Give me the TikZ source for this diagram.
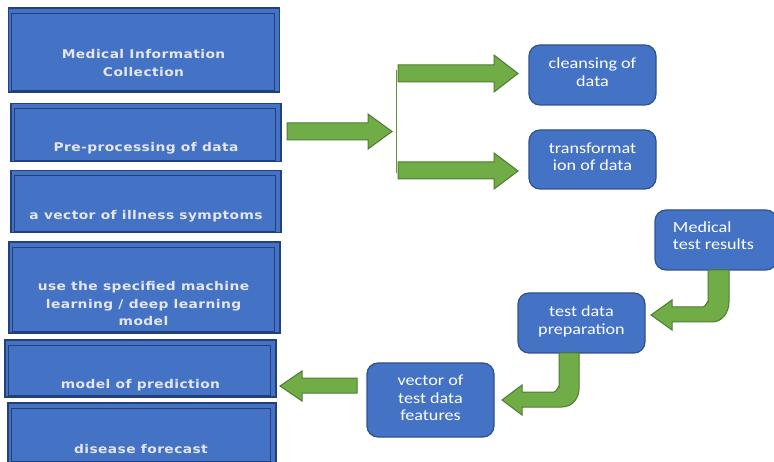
\documentclass[tikz,border=0pt]{standalone}
\usepackage{fontspec}
\newfontfamily\lfont{DejaVu Sans}[FakeStretch=1.15,LetterSpace=3.5]
\newfontfamily\rfont{Carlito}[FakeStretch=1.17]
\definecolor{boxblue}{HTML}{4472C4}
\definecolor{boxedge}{HTML}{22407A}
\definecolor{rndedge}{HTML}{2F528F}
\definecolor{agreen}{HTML}{70AD47}
\definecolor{agreenedge}{HTML}{4E7A30}
\definecolor{ltext}{HTML}{E4E6EC}
\tikzset{
  sqbox/.style={draw=boxedge,line width=1.2pt,fill=boxblue,inner sep=0pt},
  innerframe/.style={draw=boxedge,line width=0.9pt},
  rbox/.style={draw=rndedge,line width=1.2pt,fill=boxblue,rounded corners=11pt,inner sep=0pt},
  ltxt/.style={text=ltext,font=\lfont\bfseries\fontsize{12}{17.5}\selectfont,align=center,inner sep=0pt},
  rtxt/.style={text=white,font=\rfont\fontsize{15.5}{17.5}\selectfont,align=center,inner sep=0pt},
  garrow/.style={fill=agreen,draw=agreenedge,line width=1pt,line join=miter},
}
\begin{document}
\begin{tikzpicture}[x=1pt,y=-1pt]
\useasboundingbox (0,0) rectangle (774,462);
% left boxes
\node[sqbox,minimum width=271pt,minimum height=84pt] (b1) at (144,50) {};
\node[sqbox,minimum width=270pt,minimum height=58pt] (b2) at (146,132.5) {};
\node[sqbox,minimum width=270pt,minimum height=62pt] (b3) at (146,201.5) {};
\node[sqbox,minimum width=271pt,minimum height=91pt] (b4) at (144.5,287.5) {};
\node[sqbox,minimum width=271pt,minimum height=57pt] (b5) at (140.5,368.5) {};
\node[sqbox,minimum width=268pt,minimum height=60pt] (b6) at (142,433) {};
\foreach \b in {b1,b2,b3,b4,b5,b6}{
  \draw[innerframe] ([shift={(4,6)}]\b.north west) rectangle ([shift={(-6,-2)}]\b.south east);
}
\node[ltxt] (t1) at (143.5,63) {Medical Information\\Collection};
\node[ltxt] (t2) at (146,148.5) {Pre-processing of data};
\node[ltxt] (t3) at (146,216.5) {a vector of illness symptoms};
\node[ltxt] (t4) at (143.5,304) {use the specified machine\\learning / deep learning\\model};
\node[ltxt] (t5) at (140.5,385) {model of prediction};
\node[ltxt] (t6) at (141,449) {disease forecast};
% right rounded boxes
\node[rbox,minimum width=127pt,minimum height=60pt] (cl) at (592.5,75) {};
\node[rtxt] (tcl) at ([yshift=3pt]cl.center) {cleansing of\\data};
\node[rbox,minimum width=127pt,minimum height=59pt] (tr) at (592.5,159.5) {};
\node[rtxt] (ttr) at ([yshift=3pt]tr.center) {transformat\\ion of data};
\node[rbox,minimum width=122pt,minimum height=60pt] (mt) at (716,240) {};
\node[rtxt,align=left] (tmt) at (713.5,235.5) {Medical\\test results};
\node[rbox,minimum width=127pt,minimum height=60pt] (tp) at (581.5,323) {};
\node[rtxt] (ttp) at ([yshift=1.5pt]tp.center) {test data\\preparation};
\node[rbox,minimum width=127pt,minimum height=74pt] (vf) at (430.5,400) {};
\node[rtxt] (tvf) at ([yshift=2pt]vf.center) {vector of\\test data\\features};
% straight block arrows
\draw[garrow] (287,123) -- (368,123) -- (368,114) -- (392,131.5) -- (368,149) -- (368,140) -- (287,140) -- cycle;
\draw[agreen!85!black,line width=0.9pt] (396,70) coordinate (sp1) -- (396,173) coordinate (sp2);
\draw[garrow] (398,65) -- (494,65) -- (494,55) -- (518,73.5) -- (494,92) -- (494,82) -- (398,82) -- cycle;
\draw[garrow] (398,162) -- (494,162) -- (494,153) -- (518,171) -- (494,189) -- (494,179) -- (398,179) -- cycle;
\draw[garrow] (357,378) -- (302,378) -- (302,371) -- (280,386) -- (302,401) -- (302,393) -- (357,393) -- cycle;
% bent arrows
\draw[garrow] (708,270) -- (729,270) -- (729,302) to[out=-90,in=0] (712,322) -- (672,322) -- (672,330) -- (651,315) -- (672,300) -- (672,307) -- (703,307) to[out=0,in=90] (708,302) -- cycle;
\draw[garrow] (559,353) -- (579,353) -- (579,389) to[out=-90,in=0] (562,407) -- (522,407) -- (522,415) -- (502,400) -- (522,385) -- (522,392) -- (554,392) to[out=0,in=90] (559,387) -- cycle;
\end{tikzpicture}
\end{document}
